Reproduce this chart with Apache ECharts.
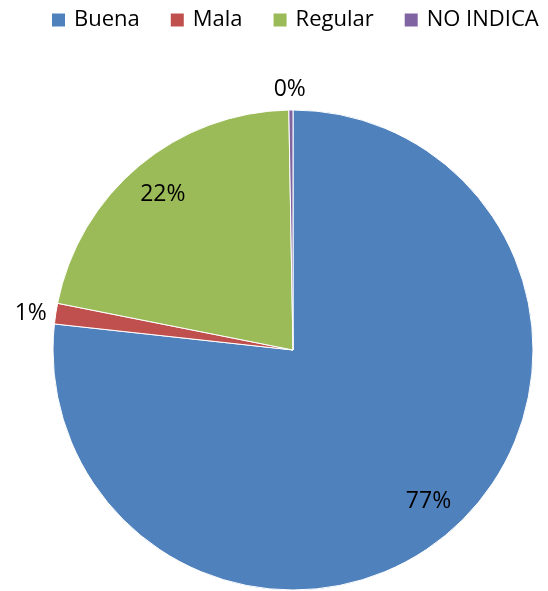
<!DOCTYPE html>
<html>
<head>
<meta charset="utf-8">
<script src="https://cdn.jsdelivr.net/npm/echarts@6/dist/echarts.min.js"></script>
<style>
  html, body { margin: 0; padding: 0; background: #fff; }
  #chart { width: 548px; height: 591px; }
</style>
</head>
<body>
<div id="chart"></div>
<script>
const categories = ['Buena', 'Mala', 'Regular', 'NO INDICA']
const values = [277, 5, 78, 1]
const colors = ['#4F81BD', '#C0504D', '#9BBB59', '#8064A2']
// label placement per slice: big slices inside, small ones outside
const labelInside = [true, false, true, false]

const font = 'Open Sans'
const center = [293, 350]

const el = document.getElementById('chart')
const chart = echarts.init(el)

const pieData = categories.map((name, i) => ({
	name,
	value: values[i],
	itemStyle: { color: colors[i] },
}))

const labelData = categories.map((name, i) => ({
	name,
	value: values[i],
	label: { position: labelInside[i] ? 'inside' : 'outside' },
	labelLine: { show: false, length: i === 3 ? 21 : 4, length2: 0 },
}))

chart.setOption({
	animation: false,
	legend: {
		data: categories,
		top: 9,
		left: 50,
		width: 540,
		padding: 0,
		itemWidth: 15,
		itemHeight: 15,
		itemGap: 29,
		icon: 'rect',
		textStyle: { fontFamily: font, fontSize: 22, color: '#000', padding: [0, 0, 0, 3] },
	},
	series: [
		{
			type: 'pie',
			center,
			radius: 240,
			startAngle: 90,
			clockwise: true,
			label: { show: false },
			labelLine: { show: false },
			itemStyle: { borderColor: '#fff', borderWidth: 1 },
			data: pieData,
		},
		{
			// transparent ring only carrying the percentage labels
			type: 'pie',
			center,
			radius: [160, 240],
			startAngle: 90,
			clockwise: true,
			silent: true,
			percentPrecision: 0,
			itemStyle: { color: 'rgba(0,0,0,0)' },
			label: {
				show: true,
				formatter: '{d}%',
				fontFamily: font,
				fontSize: 23,
				color: '#000',
			},
			labelLayout: function (params) {
				// centre the tiny top slice's label over it
				if (params.dataIndex === 3) {
					return { dx: params.labelRect.width / 2 + 4 }
				}
			},
			data: labelData,
		},
	],
})
</script>
</body>
</html>
